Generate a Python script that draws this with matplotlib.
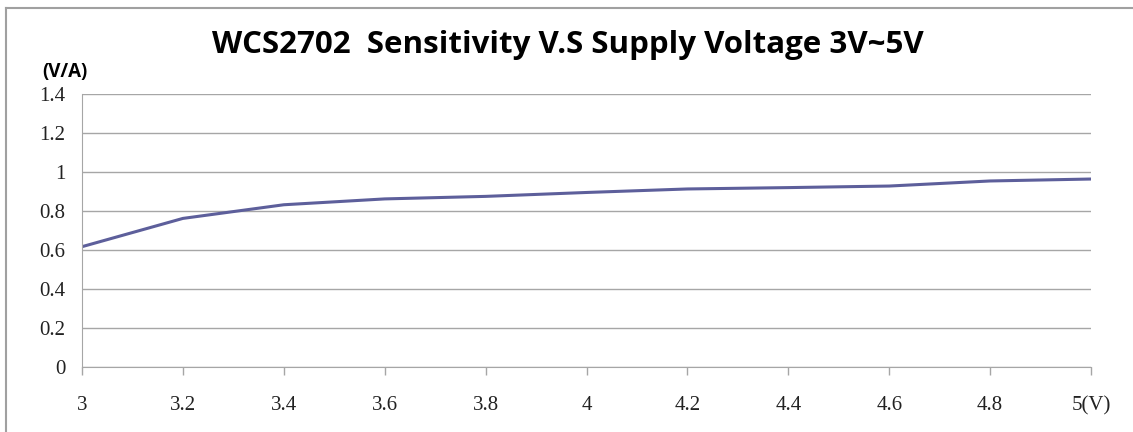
import matplotlib
matplotlib.use("Agg")
import matplotlib.pyplot as plt
from matplotlib.lines import Line2D

voltage = [3.0, 3.2, 3.4, 3.6, 3.8, 4.0, 4.2, 4.4, 4.6, 4.8, 5.0]
sensitivity = [0.617, 0.762, 0.832, 0.862, 0.875, 0.895, 0.913, 0.920, 0.928, 0.954, 0.964]
x_labels = ["3", "3.2", "3.4", "3.6", "3.8", "4", "4.2", "4.4", "4.6", "4.8", "5(V)"]
y_ticks = [0, 0.2, 0.4, 0.6, 0.8, 1.0, 1.2, 1.4]
y_labels = ["0", "0.2", "0.4", "0.6", "0.8", "1", "1.2", "1.4"]
title = "WCS2702  Sensitivity V.S Supply Voltage 3V~5V"
unit = "(V/A)"

fig = plt.figure(figsize=(11.33, 4.32), dpi=100)
ax = fig.add_axes([82/1133, 1-367/432, (1091-82)/1133, (367-94)/432])

ax.plot(voltage, sensitivity, color="#5D5F9B", lw=2.2, solid_capstyle="butt")
ax.set_xlim(3.0, 5.0)
ax.set_ylim(0, 1.4)
ax.set_yticks(y_ticks)
ax.set_yticklabels(y_labels)
ax.set_xticks(voltage)
ax.set_xticklabels(x_labels)
ax.grid(axis="y", color="#A6A6A6", lw=1)
ax.set_axisbelow(True)
for s in ["top", "right"]:
    ax.spines[s].set_visible(False)
ax.spines["left"].set_color("#A6A6A6")
ax.spines["bottom"].set_color("#A6A6A6")
ax.tick_params(axis="y", length=0, pad=12, labelsize=15)
ax.tick_params(axis="x", length=6, width=1, color="#A6A6A6", pad=15, labelsize=15)
for lab in ax.get_xticklabels() + ax.get_yticklabels():
    lab.set_family("Liberation Serif")
    lab.set_color("#222222")

fig.text(568/1133, 1-45/432, title, ha="center", va="center",
         fontsize=22.5, fontweight="bold", family="Open Sans")
fig.text(42/1133, 1-72/432, unit, ha="left", va="center",
         fontsize=13.5, fontweight="bold", family="Open Sans")

# outer chart border (left and top visible)
fig.add_artist(Line2D([6/1133, 6/1133], [0, 1-8/432], transform=fig.transFigure, color="#A0A0A0", lw=1.5))
fig.add_artist(Line2D([6/1133, 1], [1-8/432, 1-8/432], transform=fig.transFigure, color="#A0A0A0", lw=1.5))

fig.savefig("out.png", dpi=100)
